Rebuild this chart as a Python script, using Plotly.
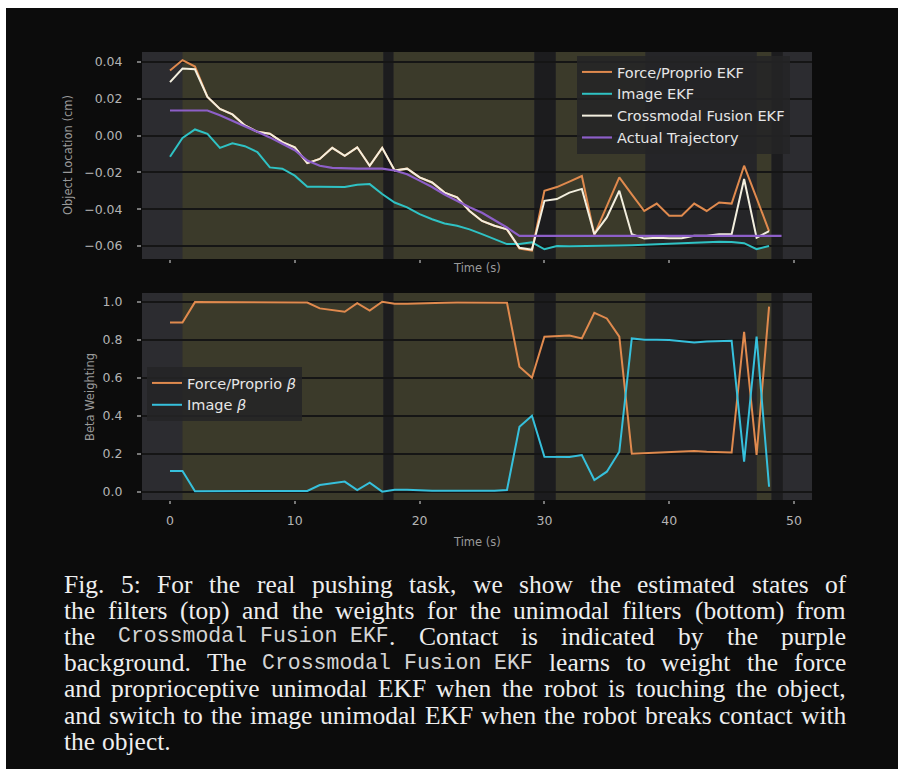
import plotly.graph_objects as go

# ---------------- data ----------------
time_est = list(range(49))
time_actual = list(range(50))

force_ekf = [0.0354, 0.041, 0.0375, 0.021, 0.0145, 0.0115, 0.0055, 0.002, 0.001, -0.0036,
             -0.0064, -0.015, -0.0127, -0.0067, -0.011, -0.0064, -0.0164, -0.0067, -0.019, -0.018,
             -0.0227, -0.0255, -0.031, -0.0336, -0.041, -0.0464, -0.049, -0.051, -0.0615, -0.0625,
             -0.030, -0.028, -0.025, -0.022, -0.054, -0.038, -0.0227, -0.032, -0.041, -0.037,
             -0.0436, -0.0436, -0.037, -0.041, -0.0364, -0.037, -0.0164, -0.034, -0.052]
image_ekf = [-0.0115, -0.0013, 0.0033, 0.0009, -0.0067, -0.0042, -0.0058, -0.009, -0.0173, -0.018,
             -0.0218, -0.0278, -0.0278, -0.0278, -0.028, -0.0267, -0.0264, -0.0318, -0.0364, -0.039,
             -0.0427, -0.0455, -0.0478, -0.049, -0.051, -0.0536, -0.0564, -0.059, -0.059, -0.058,
             -0.0618, -0.060, -0.0602, -0.0602, -0.0602, -0.060, -0.0598, -0.0596, -0.0594, -0.0592,
             -0.059, -0.0588, -0.0582, -0.058, -0.0577, -0.0578, -0.0585, -0.0618, -0.060]
fusion_ekf = [0.029, 0.0364, 0.036, 0.021, 0.0145, 0.0115, 0.0055, 0.002, 0.001, -0.0036,
              -0.0064, -0.015, -0.0127, -0.0067, -0.011, -0.0064, -0.0164, -0.0067, -0.019, -0.018,
              -0.0227, -0.0255, -0.031, -0.0336, -0.041, -0.0464, -0.049, -0.051, -0.061, -0.062,
              -0.0355, -0.0345, -0.031, -0.029, -0.0536, -0.0445, -0.030, -0.0536, -0.056, -0.0555,
              -0.0558, -0.0558, -0.0545, -0.0545, -0.0536, -0.0536, -0.0236, -0.0555, -0.052]
actual_traj = [0.0136, 0.0136, 0.0136, 0.0136, 0.011, 0.008, 0.005, 0.0018, -0.001, -0.0045,
               -0.008, -0.0136, -0.0164, -0.0176, -0.018, -0.018, -0.018, -0.018, -0.019, -0.021,
               -0.0245, -0.028, -0.032, -0.0355, -0.039, -0.042, -0.046, -0.050, -0.0545, -0.0545,
               -0.0545, -0.0545, -0.0545, -0.0545, -0.0545, -0.0545, -0.0545, -0.0545, -0.0545, -0.0545,
               -0.0545, -0.0545, -0.0545, -0.0545, -0.0545, -0.0545, -0.0545, -0.0545, -0.0545, -0.0545]

force_beta = [0.891, 0.891, 0.998, 0.998, 0.998, 0.998, 0.998, 0.998, 0.997, 0.997,
              0.996, 0.996, 0.965, 0.956, 0.947, 0.992, 0.953, 1.0, 0.99, 0.99,
              0.993, 0.995, 0.995, 0.996, 0.996, 0.995, 0.995, 0.995, 0.658, 0.60,
              0.816, 0.82, 0.822, 0.807, 0.942, 0.912, 0.816, 0.20, 0.203, 0.205,
              0.206, 0.21, 0.214, 0.21, 0.208, 0.206, 0.842, 0.193, 0.974]
image_beta = [0.109, 0.109, 0.002, 0.002, 0.002, 0.002, 0.002, 0.002, 0.003, 0.003,
              0.004, 0.004, 0.035, 0.044, 0.053, 0.008, 0.047, 0.0, 0.01, 0.01,
              0.007, 0.005, 0.005, 0.004, 0.004, 0.005, 0.005, 0.009, 0.342, 0.40,
              0.184, 0.184, 0.182, 0.193, 0.061, 0.105, 0.21, 0.807, 0.80, 0.80,
              0.798, 0.792, 0.786, 0.79, 0.792, 0.794, 0.158, 0.816, 0.026]

contact_start = [1.0, 17.9, 30.9, 47.0]
contact_end = [17.1, 29.2, 38.1, 48.2]
free_start = [17.1, 29.2, 38.1, 48.2]
free_end = [17.9, 30.9, 47.0, 49.1]

x_ticks = [0, 10, 20, 30, 40, 50]
x_ticktext = ["0", "10", "20", "30", "40", "50"]
y1_ticks = [0.04, 0.02, 0.0, -0.02, -0.04, -0.06]
y1_ticktext = ["0.04", "0.02", "0.00", "\u22120.02", "\u22120.04", "\u22120.06"]
y2_ticks = [0.0, 0.2, 0.4, 0.6, 0.8, 1.0]
y2_ticktext = ["0.0", "0.2", "0.4", "0.6", "0.8", "1.0"]

caption_lines = [
    "Fig. 5: For the real pushing task, we show the estimated states of",
    "the filters (top) and the weights for the unimodal filters (bottom) from",
    "the `Crossmodal~Fusion~EKF`. Contact is indicated by the purple",
    "background. The `Crossmodal~Fusion~EKF` learns to weight the force",
    "and proprioceptive unimodal EKF when the robot is touching the object,",
    "and switch to the image unimodal EKF when the robot breaks contact with",
    "the object.",
]

# ---------------- styling ----------------
FW, FH = 898, 769
C_ORANGE = "#e08a4e"
C_CYAN = "#2fc2c4"
C_CYAN2 = "#36c0dc"
C_WHITE = "#f3efdf"
C_PURPLE = "#8d5fc8"
PLOT_BG = "#2c2c30"
OLIVE = "#3b3a2a"
FREE = "#252528"
FREE_DARK = "#1c1c1e"
GRID = "#151515"
TICK_C = "#b4b4b4"

def px_x(p):
    return p / FW

def px_y(p):
    return 1 - p / FH

fig = go.Figure()

top = [("Force/Proprio EKF", force_ekf, time_est, C_ORANGE, 2),
       ("Image EKF", image_ekf, time_est, C_CYAN, 2),
       ("Crossmodal Fusion EKF", fusion_ekf, time_est, C_WHITE, 2),
       ("Actual Trajectory", actual_traj, time_actual, C_PURPLE, 2.2)]
for k, (nm, yv, xv, col, lw) in enumerate(top):
    fig.add_trace(go.Scatter(x=xv, y=yv, mode="lines", name=nm,
                             line=dict(color=col, width=lw), xaxis="x", yaxis="y", legend="legend"))

bottom = [("Force/Proprio <i>\u03b2</i>", force_beta, C_ORANGE),
          ("Image <i>\u03b2</i>", image_beta, C_CYAN2)]
for k, (nm, yv, col) in enumerate(bottom):
    fig.add_trace(go.Scatter(x=time_est, y=yv, mode="lines", name=nm,
                             line=dict(color=col, width=2), xaxis="x2", yaxis="y2", legend="legend2"))

shapes = []
for xr, yr in (("x", "y domain"), ("x2", "y2 domain")):
    for s, e in zip(contact_start, contact_end):
        shapes.append(dict(type="rect", xref=xr, yref=yr, x0=s, x1=e, y0=0, y1=1,
                           fillcolor=OLIVE, line=dict(width=0), layer="below"))
    for s, e in zip(free_start, free_end):
        col = FREE if (e - s) > 3 else FREE_DARK
        shapes.append(dict(type="rect", xref=xr, yref=yr, x0=s, x1=e, y0=0, y1=1,
                           fillcolor=col, line=dict(width=0), layer="below"))
# white scan borders at top and left of the scanned figure
shapes.append(dict(type="rect", xref="paper", yref="paper", x0=0, x1=1, y0=px_y(8), y1=1,
                   fillcolor="#ffffff", line=dict(width=0)))
shapes.append(dict(type="rect", xref="paper", yref="paper", x0=0, x1=px_x(6), y0=0, y1=1,
                   fillcolor="#ffffff", line=dict(width=0)))

x_dom = [px_x(142), px_x(812)]
x_rng = [-2.244, 51.44]
tickfont = dict(family="DejaVu Sans", size=12.5, color=TICK_C)

annotations = []
ann_font = dict(family="DejaVu Sans", size=11.5, color="#9a9a9a")
annotations.append(dict(text="Object Location (cm)", x=px_x(68), y=px_y(155), xref="paper", yref="paper",
                        textangle=-90, showarrow=False, font=ann_font, xanchor="center", yanchor="middle"))
annotations.append(dict(text="Beta Weighting", x=px_x(90), y=px_y(397), xref="paper", yref="paper",
                        textangle=-90, showarrow=False, font=ann_font, xanchor="center", yanchor="middle"))
annotations.append(dict(text="Time (s)", x=px_x(477), y=px_y(268), xref="paper", yref="paper",
                        showarrow=False, font=ann_font, xanchor="center", yanchor="middle"))
annotations.append(dict(text="Time (s)", x=px_x(477), y=px_y(542), xref="paper", yref="paper",
                        showarrow=False, font=ann_font, xanchor="center", yanchor="middle"))

# ---------------- caption (justified, Times metrics) ----------------
TW = {}
for chars, w in (("acez", 444), ("bdghknopquvxy", 500), ("fr", 333), ("ijlt", 278),
                 ("m", 778), ("s", 389), ("w", 722), ("0123456789", 500),
                 ("ADGHKNOQUVXY", 722), ("BCR", 667), ("ELTZ", 611), ("FPS", 556),
                 ("I", 333), ("J", 389), ("M", 889), ("W", 944),
                 (".,", 250), (":;", 278), ("()-", 333)):
    for ch in chars:
        TW[ch] = w
TW[" "] = 250

SERIF_FS = 25.5
MONO_FS = 21.5
CAP_L, CAP_R = 64.0, 846.0
CAP_Y0, CAP_DY = 584.0, 26.2
CAP_COLOR = "#eeeeee"

def parse(line):
    items, cur, mono = [], "", False
    for ch in line:
        if ch == "`":
            if cur:
                items.append(["seg", cur, mono]); cur = ""
            mono = not mono
        elif ch in " ~":
            if cur:
                items.append(["seg", cur, mono]); cur = ""
            items.append(["gap", ch == " "])
        else:
            cur += ch
    if cur:
        items.append(["seg", cur, mono])
    return items

def seg_w(text, mono):
    if mono:
        return len(text) * 0.6 * MONO_FS
    return sum(TW.get(c, 500) for c in text) * SERIF_FS / 1000.0

for i, line in enumerate(caption_lines):
    items = parse(line)
    fixed = 0.0
    n_stretch = 0
    for it in items:
        if it[0] == "seg":
            fixed += seg_w(it[1], it[2])
        elif it[1]:
            n_stretch += 1
        else:
            fixed += 0.6 * MONO_FS
    last = i == len(caption_lines) - 1
    if last or n_stretch == 0:
        gap = 0.25 * SERIF_FS
    else:
        gap = (CAP_R - CAP_L - fixed) / n_stretch
    cx = CAP_L
    yc = CAP_Y0 + i * CAP_DY
    for it in items:
        if it[0] == "seg":
            fam = "Liberation Mono" if it[2] else "Liberation Serif"
            fs = MONO_FS if it[2] else SERIF_FS
            col = "#d4d4d4" if it[2] else CAP_COLOR
            annotations.append(dict(text=it[1], x=px_x(cx), y=px_y(yc), xref="paper", yref="paper",
                                    showarrow=False, xanchor="left", yanchor="middle",
                                    borderpad=0, borderwidth=0,
                                    font=dict(family=fam, size=fs, color=col)))
            cx += seg_w(it[1], it[2])
        elif it[1]:
            cx += gap
        else:
            cx += 0.6 * MONO_FS

legend_font = dict(family="DejaVu Sans", size=14.5, color="#e6e6e6")

fig.update_layout(
    width=FW, height=FH,
    margin=dict(l=0, r=0, t=0, b=0),
    paper_bgcolor="#0c0c0c",
    plot_bgcolor=PLOT_BG,
    showlegend=True,
    xaxis=dict(domain=x_dom, range=x_rng, anchor="y", showgrid=False, zeroline=False,
               showticklabels=False, ticks="outside", ticklen=3, tickwidth=2, tickcolor="#777777",
               tickvals=x_ticks),
    xaxis2=dict(domain=x_dom, range=x_rng, anchor="y2", showgrid=False, zeroline=False,
                ticks="outside", ticklen=3, tickwidth=2, tickcolor="#777777",
                tickvals=x_ticks, ticktext=x_ticktext, tickfont=tickfont, ticklabelstandoff=6),
    yaxis=dict(domain=[px_y(259), px_y(52)], range=[-0.0671, 0.0454], anchor="x",
               showgrid=True, gridcolor=GRID, gridwidth=1.6, zeroline=False,
               ticks="outside", ticklen=4, tickwidth=1.5, tickcolor="#777777",
               tickvals=y1_ticks, ticktext=y1_ticktext, tickfont=tickfont, ticklabelstandoff=12),
    yaxis2=dict(domain=[px_y(500), px_y(293)], range=[-0.044, 1.046], anchor="x2",
                showgrid=True, gridcolor=GRID, gridwidth=1.6, zeroline=False,
                ticks="outside", ticklen=4, tickwidth=1.5, tickcolor="#777777",
                tickvals=y2_ticks, ticktext=y2_ticktext, tickfont=tickfont, ticklabelstandoff=12),
    legend=dict(x=px_x(577), y=px_y(56), xanchor="left", yanchor="top",
                bgcolor="rgba(36,36,38,0.88)", borderwidth=0, font=legend_font),
    legend2=dict(x=px_x(147), y=px_y(367), xanchor="left", yanchor="top",
                 bgcolor="rgba(36,36,38,0.88)", borderwidth=0, font=legend_font),
    shapes=shapes,
    annotations=annotations,
)

fig.write_html(
    "out.html",
    config={"displayModeBar": False},
    post_script=("document.documentElement.style.margin='0';document.body.style.margin='0';"
                 "document.documentElement.style.overflow='hidden';document.body.style.overflow='hidden';"),
)
